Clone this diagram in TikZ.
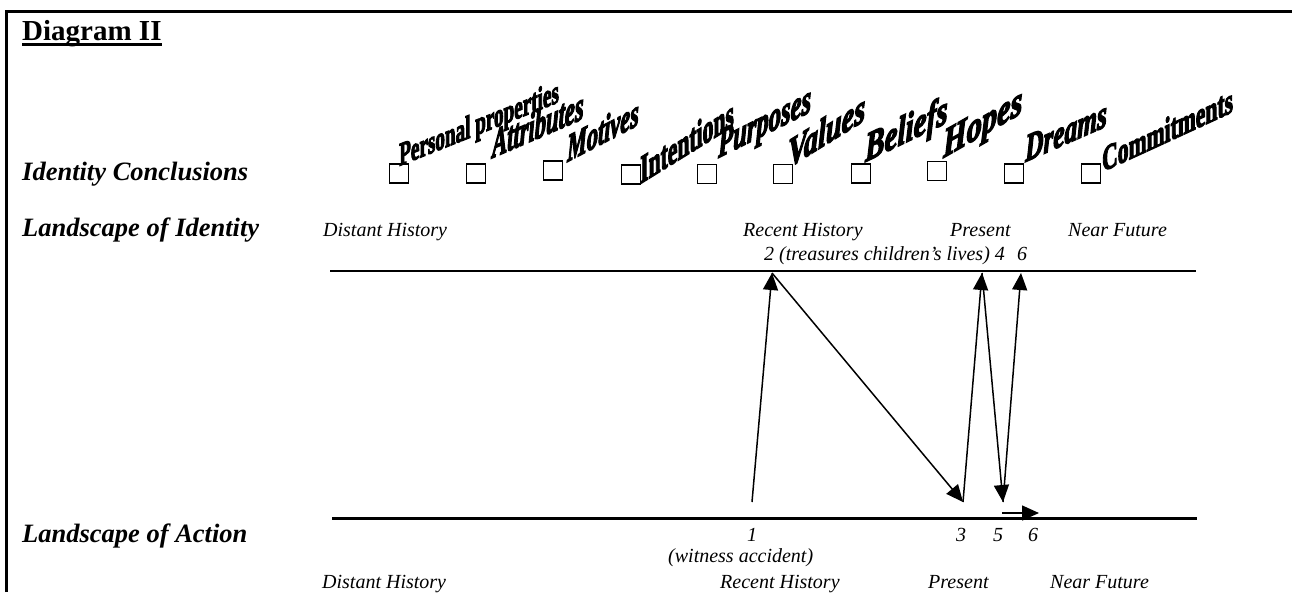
\documentclass[tikz,border=0pt]{standalone}
\usepackage{fontspec}
\setmainfont{Liberation Serif}
\newfontface\waup{Liberation Serif Bold}[FakeBold=4]
\newfontface\wait{Liberation Serif Bold Italic}[FakeBold=4]
\usetikzlibrary{arrows.meta}
\begin{document}
\begin{tikzpicture}[x=1pt,y=-1pt,
  lbl/.style={anchor=base west, inner sep=0pt, font=\fontsize{26.5}{30}\selectfont\bfseries\itshape},
  tl/.style={anchor=base west, inner sep=0pt, font=\fontsize{20}{24}\selectfont\itshape},
  cbox/.style={draw, line width=1.3pt, minimum size=19pt, inner sep=0pt},
  wa/.style={anchor=base west, inner sep=0pt},
  wab/.style={wa, font=\waup\fontsize{#1}{#1}\selectfont},
  wai/.style={wa, font=\wait\fontsize{#1}{#1}\selectfont},
  axisline/.style={line width=2.2pt},
  conn/.style={line width=1.5pt, -{Triangle[length=17pt,width=15pt]}},
]
\useasboundingbox (0,0) rectangle (1292,592);
\draw[line width=2.5pt] (6.5,592) -- (6.5,11.25) -- (1292,11.25);
\node[anchor=base west, inner sep=0pt, font=\fontsize{29}{32}\selectfont\bfseries] (title) at (22,40) {Diagram II};
\draw[line width=2.5pt] ([yshift=-4.5pt]title.base west) -- ([yshift=-4.5pt]title.base east);

\node[lbl] (ic) at (22,180) {Identity Conclusions};
\node[lbl] (loi) at (22,236) {Landscape of Identity};
\node[lbl] (loa) at (22,542) {Landscape of Action};

% check boxes
\node[cbox] (cb1) at (399,173.5) {};
\node[cbox] (cb2) at (476,173.5) {};
\node[cbox] (cb3) at (553,170.5) {};
\node[cbox] (cb4) at (631,174.5) {};
\node[cbox] (cb5) at (707,174) {};
\node[cbox] (cb6) at (783,174) {};
\node[cbox] (cb7) at (861,173.5) {};
\node[cbox] (cb8) at (937,171) {};
\node[cbox] (cb9) at (1014,173.5) {};
\node[cbox] (cb10) at (1091,173.5) {};

% word art labels (slanted baselines)
\node[wab=33, yslant=0.40] (w1) at (399,166) {\scalebox{0.58}[1]{Personal properties}};
\node[wai=41, yslant=0.43] (w2) at (492,158) {\scalebox{0.55}[1]{Attributes}};
\node[wai=39, yslant=0.52] (w3) at (567,162) {\scalebox{0.57}[1]{Motives}};
\node[wab=40, yslant=0.62] (w4) at (640,184) {\scalebox{0.54}[1]{Intentions}};
\node[wai=41, yslant=0.5] (w5) at (718,158) {\scalebox{0.6}[1]{Purposes}};
\node[wai=41, yslant=0.62] (w6) at (788,168) {\scalebox{0.69}[1]{Values}};
\node[wai=41, yslant=0.48] (w7) at (865,162) {\scalebox{0.71}[1]{Beliefs}};
\node[wai=41, yslant=0.57] (w8) at (943,158) {\scalebox{0.74}[1]{Hopes}};
\node[wai=39, yslant=0.44] (w9) at (1025,162) {\scalebox{0.65}[1]{Dreams}};
\node[wab=36, yslant=0.46] (w10) at (1102,172) {\scalebox{0.6}[1]{Commitments}};

% time lines
\coordinate (tl1) at (330,271);
\coordinate (tl2) at (1196,271);
\coordinate (bl1) at (332,518.5);
\coordinate (bl2) at (1197,518.5);
\draw[axisline] (tl1) -- (tl2);
\draw[axisline] (bl1) -- (bl2);

% top labels
\node[tl] (tdh) at (323,236) {Distant History};
\node[tl] (trh) at (743,236) {Recent History};
\node[tl] (tpr) at (950,236) {Present};
\node[tl] (tnf) at (1068,236) {Near Future};
\node[tl] (n2) at (764,260) {2 (treasures children’s lives) 4};
\node[tl] (n6t) at (1017,260) {6};

% bottom labels
\node[tl] (n1) at (747,541) {1};
\node[tl] (n3) at (956,541) {3};
\node[tl] (n5) at (993,541) {5};
\node[tl] (n6b) at (1028,541) {6};
\node[tl] (wit) at (668,562) {(witness accident)};
\node[tl] (bdh) at (322,588) {Distant History};
\node[tl] (brh) at (720,588) {Recent History};
\node[tl] (bpr) at (928,588) {Present};
\node[tl] (bnf) at (1050,588) {Near Future};

% arrows
\coordinate (p1) at (752,502);
\coordinate (p2) at (772,273);
\coordinate (p3) at (963,502);
\coordinate (p4) at (982,273);
\coordinate (p5) at (1003,502);
\coordinate (p6) at (1021,273);
\coordinate (h1) at (1002,513);
\coordinate (h2) at (1039,513);
\draw[conn] (p1) -- (p2);
\draw[conn] (p2) -- (p3);
\draw[conn] (p3) -- (p4);
\draw[conn] (p4) -- (p5);
\draw[conn] (p5) -- (p6);
\draw[conn] (h1) -- (h2);
\end{tikzpicture}
\end{document}
